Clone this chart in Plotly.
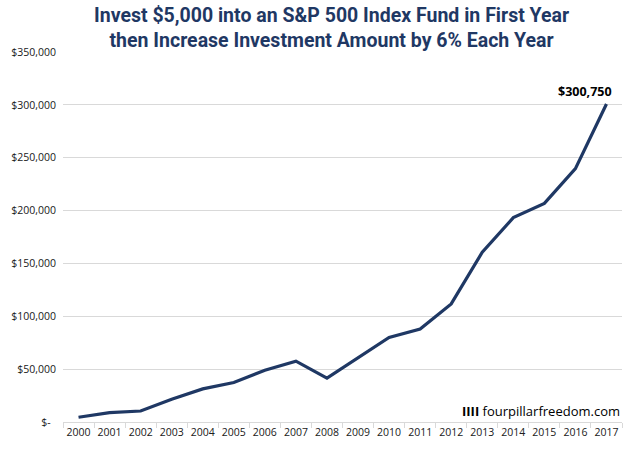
import plotly.graph_objects as go

years = [str(y) for y in range(2000, 2018)]
values = [4500, 8800, 10400, 21500, 31300, 37300, 49000, 57600, 41500,
          60800, 80000, 88000, 111700, 160600, 193300, 206800, 239700, 300750]
y_ticks = [0, 50000, 100000, 150000, 200000, 250000, 300000, 350000]
y_tick_text = ["$-  ", "$50,000", "$100,000", "$150,000", "$200,000",
               "$250,000", "$300,000", "$350,000"]
title_lines = ["Invest $5,000 into an S&P 500 Index Fund in First Year",
               "then Increase Investment Amount by 6% Each Year"]
final_label = "$300,750"
watermark = "<b>IIII</b> fourpillarfreedom.com"

navy = "#1F3864"
font_family = "Open Sans, Liberation Sans, sans-serif"
title_family = "Roboto, Open Sans, sans-serif"

fig = go.Figure()
fig.add_trace(go.Scatter(x=years, y=values, mode="lines",
                         line=dict(color=navy, width=3.2), hoverinfo="skip"))

fig.update_layout(
    width=632, height=450,
    margin=dict(l=63, r=10, t=52, b=28),
    paper_bgcolor="white", plot_bgcolor="white",
    showlegend=False,
    font=dict(family=font_family, color="#404040", size=10),
    xaxis=dict(type="category", range=[-0.5, 17.5], showgrid=False,
               showline=True, linecolor="#D9D9D9", linewidth=1,
               ticks="outside", tickson="boundaries", ticklen=5,
               tickcolor="#D9D9D9", tickangle=0,
               tickfont=dict(size=10.5, color="#202020"),
               fixedrange=True),
    yaxis=dict(range=[0, 350000], tickvals=y_ticks, ticktext=y_tick_text,
               showgrid=True, gridcolor="#D9D9D9", gridwidth=1,
               zeroline=False, showline=False, ticks="",
               ticklabelstandoff=6,
               tickfont=dict(size=10.5, color="#202020"), fixedrange=True),
)

fig.add_annotation(text="<b>" + "<br>".join(title_lines) + "</b>",
                   xref="paper", yref="paper",
                   x=0.48, xanchor="center", y=1.135, yanchor="top",
                   showarrow=False, align="center",
                   font=dict(size=19.5, color=navy, family=title_family))
fig.add_annotation(text="<b>" + final_label + "</b>", x=len(years) - 1,
                   y=values[-1], xref="x", yref="y", showarrow=False,
                   xanchor="right", yanchor="bottom", xshift=8, yshift=2,
                   font=dict(size=12.5, color="#000000", family=font_family))
fig.add_annotation(text=watermark, xref="paper", yref="paper", x=1.0, y=0.0,
                   xanchor="right", yanchor="bottom", yshift=0, showarrow=False,
                   font=dict(size=13, color="#000000", family=font_family))

fig.write_html("out.html")
